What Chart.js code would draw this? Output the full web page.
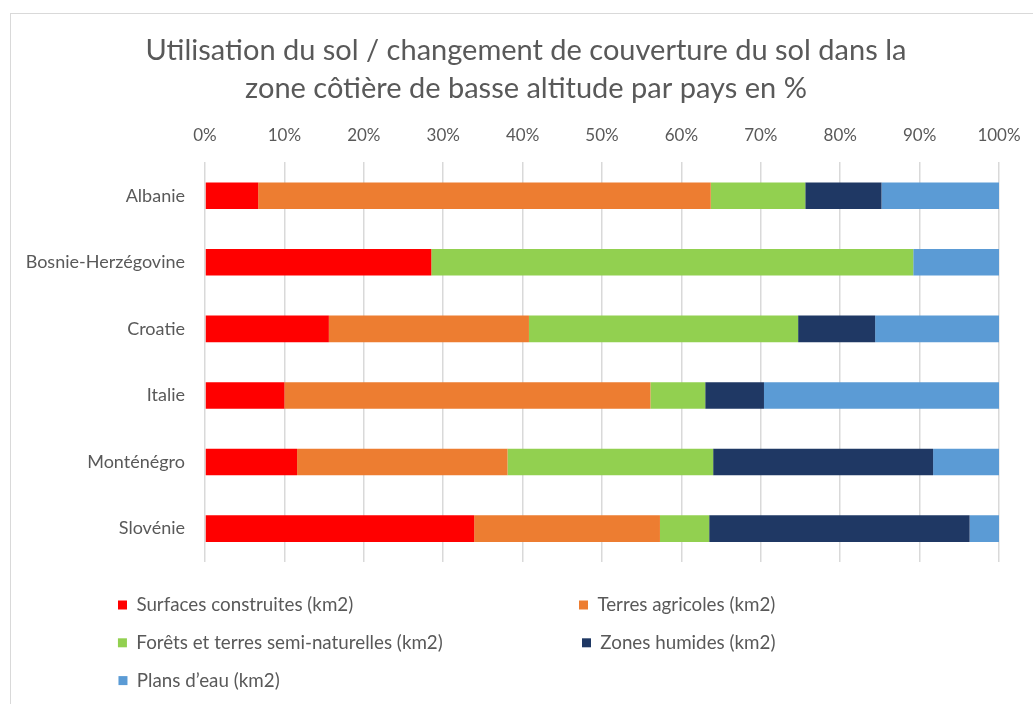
<!DOCTYPE html>
<html>
<head>
<meta charset="utf-8">
<script src="https://cdn.jsdelivr.net/npm/chart.js@4.4.0/dist/chart.umd.min.js"></script>
<style>
  body { margin: 0; background: #fff; }
  #frame { position: absolute; left: 10px; top: 13px; width: 1100px; height: 800px; border: 1px solid #d9d9d9; }
  #myChart { position: absolute; left: 0; top: 0; }
</style>
</head>
<body>
<div id="frame"></div>
<canvas id="myChart" width="1033" height="704"></canvas>
<script>
'use strict';
// data, percent of each country
let countries = ['Albanie', 'Bosnie-Herzégovine', 'Croatie', 'Italie', 'Monténégro', 'Slovénie'];
let surfaces = [6.7, 28.5, 15.6, 10.0, 11.6, 33.9];
let terres = [57.0, 0, 25.2, 46.1, 26.5, 23.4];
let forets = [11.9, 60.7, 33.9, 6.9, 25.9, 6.2];
let humides = [9.6, 0, 9.7, 7.4, 27.7, 32.8];
let eau = [14.8, 10.8, 15.6, 29.6, 8.3, 3.7];
let seriesNames = ['Surfaces construites (km2)', 'Terres agricoles (km2)', 'Forêts et terres semi-naturelles (km2)', 'Zones humides (km2)', 'Plans d\u2019eau (km2)'];
let xTicks = [0, 10, 20, 30, 40, 50, 60, 70, 80, 90, 100];

let colors = ['#ff0000', '#ed7d31', '#92d050', '#1f3864', '#5b9bd5'];
let textColor = '#595959';
let fontName = 'Lato';
let legendSize = 18.8;

// legend is drawn by chart.js, text padded with spaces so it falls in 2 columns
let legendWidths = [422, 333, 422, 333, 794];

function padLabels(chart) {
    let items = Chart.defaults.plugins.legend.labels.generateLabels(chart);
    let ctx = chart.ctx;
    ctx.save();
    ctx.font = legendSize + 'px ' + fontName;
    for (let i = 0; i < items.length; i++) {
        while (ctx.measureText(items[i].text).width < legendWidths[i]) {
            items[i].text += ' ';
        }
    }
    ctx.restore();
    return items;
}

let allData = [surfaces, terres, forets, humides, eau];
let datasets = [];
for (let i = 0; i < allData.length; i++) {
    datasets.push({
        label: seriesNames[i],
        data: allData[i],
        backgroundColor: colors[i],
        borderWidth: 0,
        barPercentage: 0.8,
        categoryPercentage: 0.5
    });
}

let ctx = document.getElementById('myChart').getContext('2d');
let chart = new Chart(ctx, {
    type: 'bar',
    data: {
        labels: countries,
        datasets: datasets
    },
    options: {
        indexAxis: 'y',
        responsive: false,
        animation: false,
        layout: { padding: { left: 20, right: 1, top: 0, bottom: 4 } },
        scales: {
            x: {
                position: 'top',
                stacked: true,
                min: 0,
                max: 100,
                afterBuildTicks: function (scale) {
                    scale.ticks = xTicks.map(v => ({ value: v }));
                },
                // keep the plot right edge where the picture has it
                afterFit: function (scale) { scale.paddingRight = 34; },
                ticks: {
                    color: textColor,
                    font: { family: fontName, size: 17 },
                    padding: 17,
                    callback: v => v + '%'
                },
                grid: { color: '#d9d9d9', lineWidth: 1.5, drawTicks: false },
                border: { display: false }
            },
            y: {
                stacked: true,
                afterFit: function (scale) { scale.width = 185; },
                ticks: {
                    color: textColor,
                    font: { family: fontName, size: 18 },
                    padding: 20
                },
                grid: { display: false, drawTicks: false },
                border: { display: false }
            }
        },
        plugins: {
            title: {
                display: true,
                text: ['Utilisation du sol / changement de couverture du sol dans la', 'zone côtière de basse altitude par pays en %'],
                color: textColor,
                font: { family: fontName, size: 29, weight: 'normal', lineHeight: 38 / 29 },
                padding: { top: 32, bottom: 0 }
            },
            legend: {
                position: 'bottom',
                align: 'center',
                title: { display: true, text: ' ', font: { size: 1 }, padding: { top: 13.5, bottom: 0 } },
                labels: {
                    color: textColor,
                    font: { family: fontName, size: legendSize },
                    boxWidth: 9,
                    boxHeight: 9,
                    padding: 19,
                    generateLabels: padLabels
                }
            },
            tooltip: { enabled: false }
        }
    }
});
</script>
</body>
</html>
